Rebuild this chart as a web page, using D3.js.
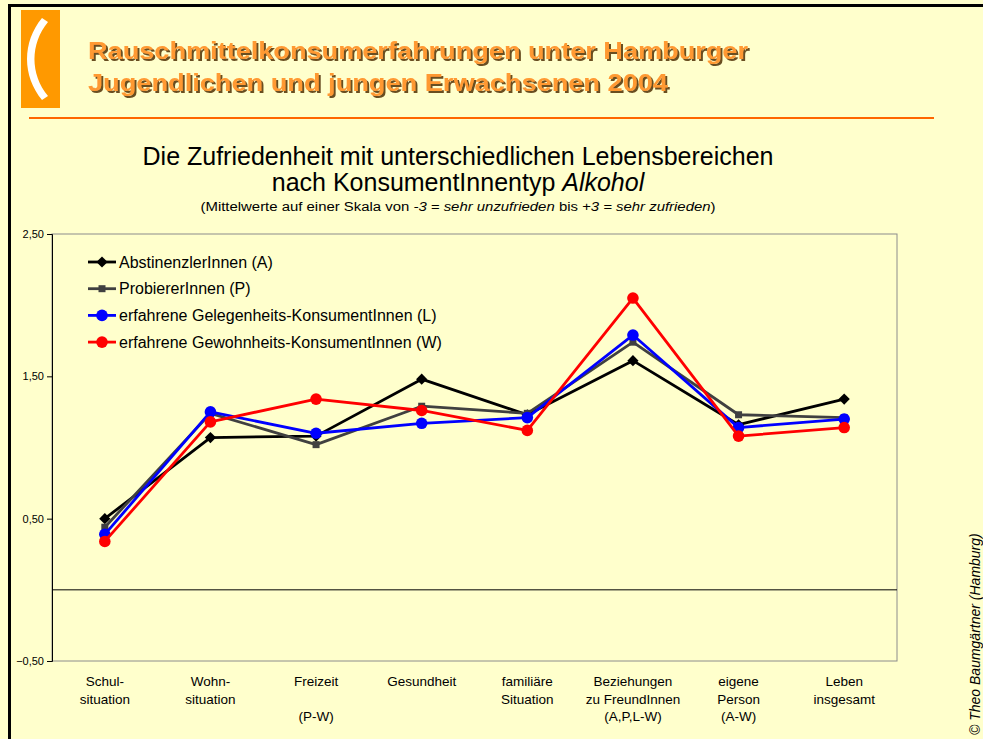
<!DOCTYPE html>
<html lang="de">
<head>
  <meta charset="UTF-8" />
  <title>Zufriedenheit nach KonsumentInnentyp Alkohol</title>
  <script src="https://d3js.org/d3.v7.min.js"></script>
  <style>
    body {
      margin: 0;
      background: #ffffcc;
      font-family: "Liberation Sans", Arial, sans-serif;
    }
    svg { display: block; }
  </style>
</head>
<body>
  <svg width="983" height="739"></svg>

  <script>
    const categories = [
      ["Schul-", "situation"],
      ["Wohn-", "situation"],
      ["Freizeit", "", "(P-W)"],
      ["Gesundheit"],
      ["familiäre", "Situation"],
      ["Beziehungen", "zu FreundInnen", "(A,P,L-W)"],
      ["eigene", "Person", "(A-W)"],
      ["Leben", "insgesamt"]
    ];

    const seriesNames = [
      "AbstinenzlerInnen (A)",
      "ProbiererInnen (P)",
      "erfahrene Gelegenheits-KonsumentInnen (L)",
      "erfahrene Gewohnheits-KonsumentInnen (W)"
    ];

    const valuesA = [0.50, 1.07, 1.08, 1.48, 1.23, 1.61, 1.16, 1.34];
    const valuesP = [0.44, 1.24, 1.02, 1.29, 1.24, 1.74, 1.23, 1.21];
    const valuesL = [0.39, 1.25, 1.10, 1.17, 1.21, 1.79, 1.14, 1.20];
    const valuesW = [0.34, 1.18, 1.34, 1.26, 1.12, 2.05, 1.08, 1.14];

    const yTicks = [-0.5, 0.5, 1.5, 2.5];

    const colors = ["#000000", "#404040", "#0000ff", "#ff0000"];
    const markers = ["diamond", "square", "circle", "circle"];
    const allValues = [valuesA, valuesP, valuesL, valuesW];

    const svg = d3.select("svg");

    const defs = svg.append("defs");
    defs.append("filter")
      .attr("id", "shadow")
      .attr("x", "-5%").attr("y", "-20%")
      .attr("width", "110%").attr("height", "150%")
      .append("feDropShadow")
      .attr("dx", 2).attr("dy", 2)
      .attr("stdDeviation", 0.6)
      .attr("flood-color", "#5a3a10")
      .attr("flood-opacity", 0.9);

    // page frame
    svg.append("path")
      .attr("d", "M9.5,760 V5.5 H1000")
      .attr("fill", "none")
      .attr("stroke", "#000")
      .attr("stroke-width", 3);

    // logo
    svg.append("rect")
      .attr("x", 21).attr("y", 10)
      .attr("width", 39).attr("height", 98)
      .attr("fill", "#ff9900");
    svg.append("path")
      .attr("d", "M48,22 C30,44 30,74 48,96 L42,100 C22,76 22,42 42,18 Z")
      .attr("fill", "#fff");

    // header title
    const header = ["Rauschmittelkonsumerfahrungen unter Hamburger",
                    "Jugendlichen und jungen Erwachsenen 2004"];
    const headerWidths = [660, 580];
    header.forEach((t, i) => {
      svg.append("text")
        .attr("x", 88).attr("y", 59 + i * 32)
        .attr("font-size", 23)
        .attr("font-weight", "bold")
        .attr("fill", "#ff9933")
        .attr("filter", "url(#shadow)")
        .attr("textLength", headerWidths[i])
        .attr("lengthAdjust", "spacingAndGlyphs")
        .text(t);
    });

    svg.append("line")
      .attr("x1", 29).attr("x2", 934)
      .attr("y1", 118).attr("y2", 118)
      .attr("stroke", "#ff6600")
      .attr("stroke-width", 2);

    // chart title
    const cx = 458;
    svg.append("text")
      .attr("x", cx).attr("y", 165)
      .attr("text-anchor", "middle")
      .attr("font-size", 25)
      .text("Die Zufriedenheit mit unterschiedlichen Lebensbereichen");
    const t2 = svg.append("text")
      .attr("x", cx).attr("y", 191)
      .attr("text-anchor", "middle")
      .attr("font-size", 25);
    t2.append("tspan").text("nach KonsumentInnentyp ");
    t2.append("tspan").attr("font-style", "italic").text("Alkohol");
    const t3 = svg.append("text")
      .attr("x", cx).attr("y", 211)
      .attr("text-anchor", "middle")
      .attr("font-size", 12)
      .attr("textLength", 515)
      .attr("lengthAdjust", "spacingAndGlyphs");
    t3.append("tspan").text("(Mittelwerte auf einer Skala von ");
    t3.append("tspan").attr("font-style", "italic").text("-3 = sehr unzufrieden");
    t3.append("tspan").text(" bis ");
    t3.append("tspan").attr("font-style", "italic").text("+3 = sehr zufrieden");
    t3.append("tspan").text(")");

    // plot area
    const plotLeft = 52, plotRight = 897, plotTop = 234, plotBottom = 661;

    const x = d3.scaleBand()
      .domain(d3.range(categories.length))
      .range([plotLeft, plotRight]);

    const y = d3.scaleLinear()
      .domain([-0.5, 2.5])
      .range([plotBottom, plotTop]);

    svg.append("rect")
      .attr("x", plotLeft).attr("y", plotTop)
      .attr("width", plotRight - plotLeft).attr("height", plotBottom - plotTop)
      .attr("fill", "none")
      .attr("stroke", "#8c8c8c")
      .attr("stroke-width", 1);

    const fmt = d => d3.format(".2f")(d).replace(".", ",");
    const yAxis = svg.append("g")
      .attr("transform", `translate(${plotLeft},0)`)
      .call(d3.axisLeft(y).tickValues(yTicks).tickFormat(fmt).tickSize(5).tickPadding(3));
    yAxis.select(".domain").attr("stroke", "#000");
    yAxis.selectAll("text")
      .attr("font-family", "'Liberation Sans', Arial, sans-serif")
      .attr("font-size", 11)
      .attr("fill", "#000");

    // zero line
    svg.append("line")
      .attr("x1", plotLeft).attr("x2", plotRight)
      .attr("y1", y(0)).attr("y2", y(0))
      .attr("stroke", "#000")
      .attr("stroke-width", 1);

    // category labels
    categories.forEach((lines, i) => {
      const tx = svg.append("text")
        .attr("text-anchor", "middle")
        .attr("font-size", 13.5);
      lines.forEach((l, j) => {
        tx.append("tspan")
          .attr("x", x(i) + x.bandwidth() / 2)
          .attr("y", 686 + j * 17.5)
          .text(l || " ");
      });
    });

    // series
    const line = d3.line()
      .x((d, i) => x(i) + x.bandwidth() / 2)
      .y(d => y(d));

    function drawMarker(g, type, px, py, color) {
      if (type === "diamond") {
        g.append("path")
          .attr("d", d3.symbol(d3.symbolDiamond2, 80)())
          .attr("transform", `translate(${px},${py})`)
          .attr("fill", color);
      } else if (type === "square") {
        g.append("rect")
          .attr("x", px - 3.5).attr("y", py - 3.5)
          .attr("width", 7).attr("height", 7)
          .attr("fill", color);
      } else {
        g.append("circle")
          .attr("cx", px).attr("cy", py).attr("r", 5.8)
          .attr("fill", color);
      }
    }

    allValues.forEach((vals, s) => {
      const g = svg.append("g");
      g.append("path")
        .datum(vals)
        .attr("d", line)
        .attr("fill", "none")
        .attr("stroke", colors[s])
        .attr("stroke-width", 2.8)
        .attr("stroke-linejoin", "round");
      vals.forEach((v, i) => drawMarker(g, markers[s], x(i) + x.bandwidth() / 2, y(v), colors[s]));
    });

    // legend
    seriesNames.forEach((name, s) => {
      const ly = 262 + s * 26.7;
      const g = svg.append("g");
      g.append("line")
        .attr("x1", 88).attr("x2", 116)
        .attr("y1", ly).attr("y2", ly)
        .attr("stroke", colors[s])
        .attr("stroke-width", 2.8);
      drawMarker(g, markers[s], 102, ly, colors[s]);
      g.append("text")
        .attr("x", 119).attr("y", ly + 5.5)
        .attr("font-size", 16)
        .text(name);
    });

    // copyright
    svg.append("text")
      .attr("transform", "translate(980,735) rotate(-90)")
      .attr("font-size", 14)
      .attr("font-style", "italic")
      .attr("fill", "#000")
      .text("© Theo Baumgärtner (Hamburg)");
  </script>
</body>
</html>
